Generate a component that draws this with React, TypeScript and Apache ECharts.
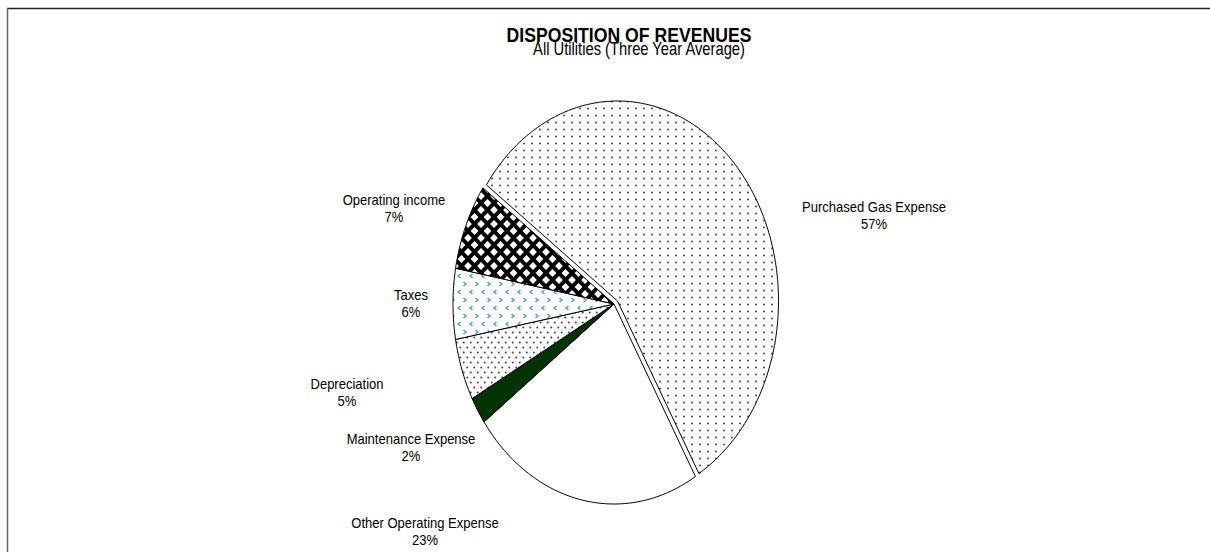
import React, { useEffect, useRef } from 'react';
import * as echarts from 'echarts';

// ---- data ----
const categories = [
  'Purchased Gas Expense',
  'Other Operating Expense',
  'Maintenance Expense',
  'Depreciation',
  'Taxes',
  'Operating income',
];
const values = [56.7, 23.4, 2.2, 5.0, 5.7, 7.0];
const titleText = 'DISPOSITION OF REVENUES';
const subtitleText = 'All Utilities (Three Year Average)';

// ---- layout (not data) ----
const CX = 614;
const CY = 304;
const RX = 161;
const RY = 200;
const START_DEG = 305.5; // clockwise from 12 o'clock
const EXPLODE: number[][] = [[3.5, -3], [0, 0], [0, 0], [0, 0], [0, 0], [0, 0]];
const LABEL_POS: number[][] = [[874, 216], [425, 532], [411, 448], [347, 393], [411, 304], [394, 209]];
const FONT = "'Liberation Sans', Arial, sans-serif";
const LABEL_SCALE = 0.93;

function makeTile(w: number, h: number, bg: string, draw: (ctx: CanvasRenderingContext2D) => void) {
  const c = document.createElement('canvas');
  c.width = w;
  c.height = h;
  const ctx = c.getContext('2d') as CanvasRenderingContext2D;
  ctx.fillStyle = bg;
  ctx.fillRect(0, 0, w, h);
  draw(ctx);
  return { image: c, repeat: 'repeat', imageWidth: w, imageHeight: h } as any;
}

function dot(ctx: CanvasRenderingContext2D, x: number, y: number, r: number, color: string) {
  ctx.fillStyle = color;
  ctx.beginPath();
  ctx.arc(x, y, r, 0, Math.PI * 2);
  ctx.fill();
}

function buildFills() {
  const gas = makeTile(8, 7, '#ffffff', (ctx) => dot(ctx, 4, 3.5, 0.9, '#333'));
  const dep = makeTile(7, 10, '#ffffff', (ctx) => {
    dot(ctx, 1.75, 2.5, 1.0, '#444');
    dot(ctx, 5.25, 7.5, 1.0, '#444');
  });
  const taxes = makeTile(12, 16, '#ffffff', (ctx) => {
    ctx.strokeStyle = '#3a9fa6';
    ctx.lineWidth = 1.2;
    const chev = (x: number, y: number, dir: number) => {
      ctx.beginPath();
      ctx.moveTo(x + 1.5 * dir, y - 2);
      ctx.lineTo(x - 1 * dir, y);
      ctx.lineTo(x + 1.5 * dir, y + 2);
      ctx.stroke();
    };
    chev(3, 4, 1);
    chev(9, 12, -1);
  });
  const opinc = makeTile(13, 14, '#000000', (ctx) => {
    ctx.fillStyle = '#ffffff';
    const dia = (x: number, y: number, r: number) => {
      ctx.beginPath();
      ctx.moveTo(x, y - r);
      ctx.lineTo(x + r, y);
      ctx.lineTo(x, y + r);
      ctx.lineTo(x - r, y);
      ctx.closePath();
      ctx.fill();
    };
    const r = 3.9;
    dia(6.5, 7, r);
    dia(0, 0, r);
    dia(13, 0, r);
    dia(0, 14, r);
    dia(13, 14, r);
  });
  return [gas, '#ffffff', '#003300', dep, taxes, opinc];
}

export default function App() {
  const ref = useRef<HTMLDivElement>(null);
  useEffect(() => {
    if (!ref.current) return;
    const chart = echarts.init(ref.current, null, { renderer: 'svg' });
    const fills = buildFills();
    const total = values.reduce((a, b) => a + b, 0);
    const cum: number[] = [];
    let acc = 0;
    values.forEach((v) => {
      cum.push(acc);
      acc += v;
    });

    const option: any = {
      animation: false,
      backgroundColor: '#ffffff',
      graphic: [
        { type: 'line', shape: { x1: 7, y1: 8.5, x2: 1210, y2: 8.5 }, style: { stroke: '#222', lineWidth: 1.5 } },
        { type: 'line', shape: { x1: 7.5, y1: 8, x2: 7.5, y2: 552 }, style: { stroke: '#666', lineWidth: 1.5 } },
        {
          type: 'text',
          x: 639,
          y: 48,
          scaleX: 0.82,
          style: {
            text: subtitleText, x: 0, y: 0, align: 'center', verticalAlign: 'middle',
            textAlign: 'center', textVerticalAlign: 'middle',
            font: `18px ${FONT}`, fill: '#000',
          },
        },
        {
          type: 'text',
          x: 629,
          y: 34,
          scaleX: 0.84,
          style: {
            text: titleText, x: 0, y: 0, align: 'center', verticalAlign: 'middle',
            textAlign: 'center', textVerticalAlign: 'middle',
            font: `bold 21px ${FONT}`, fill: '#000',
          },
        },
      ],
      series: [
        {
          type: 'custom',
          coordinateSystem: 'none',
          data: values.map((v, i) => ({ value: v, name: categories[i] })),
          renderItem: (params: any) => {
            const i = params.dataIndex;
            const a0 = START_DEG + (cum[i] / total) * 360;
            const a1 = a0 + (values[i] / total) * 360;
            const cx = CX + EXPLODE[i][0];
            const cy = CY + EXPLODE[i][1];
            const pts: number[][] = [[cx, cy]];
            const n = Math.max(2, Math.ceil(a1 - a0));
            for (let k = 0; k <= n; k++) {
              const a = ((a0 + ((a1 - a0) * k) / n) * Math.PI) / 180;
              pts.push([cx + RX * Math.sin(a), cy - RY * Math.cos(a)]);
            }
            const pct = Math.round((values[i] / total) * 100);
            return {
              type: 'group',
              children: [
                {
                  type: 'polygon',
                  shape: { points: pts },
                  style: { fill: fills[i], stroke: '#000', lineWidth: 1 },
                },
                {
                  type: 'text',
                  x: LABEL_POS[i][0],
                  y: LABEL_POS[i][1],
                  scaleX: LABEL_SCALE,
                  style: {
                    text: `${categories[i]}\n${pct}%`,
                    x: 0,
                    y: 0,
                    align: 'center',
                    verticalAlign: 'middle',
                    textAlign: 'center',
                    textVerticalAlign: 'middle',
                    font: `14px ${FONT}`,
                    lineHeight: 17.5,
                    fill: '#000',
                  },
                },
              ],
            };
          },
        },
      ],
    };
    chart.setOption(option);
    return () => chart.dispose();
  }, []);
  return (
    <div
      ref={ref}
      style={{ position: 'absolute', left: 0, top: 0, width: 1210, height: 552 }}
    />
  );
}
